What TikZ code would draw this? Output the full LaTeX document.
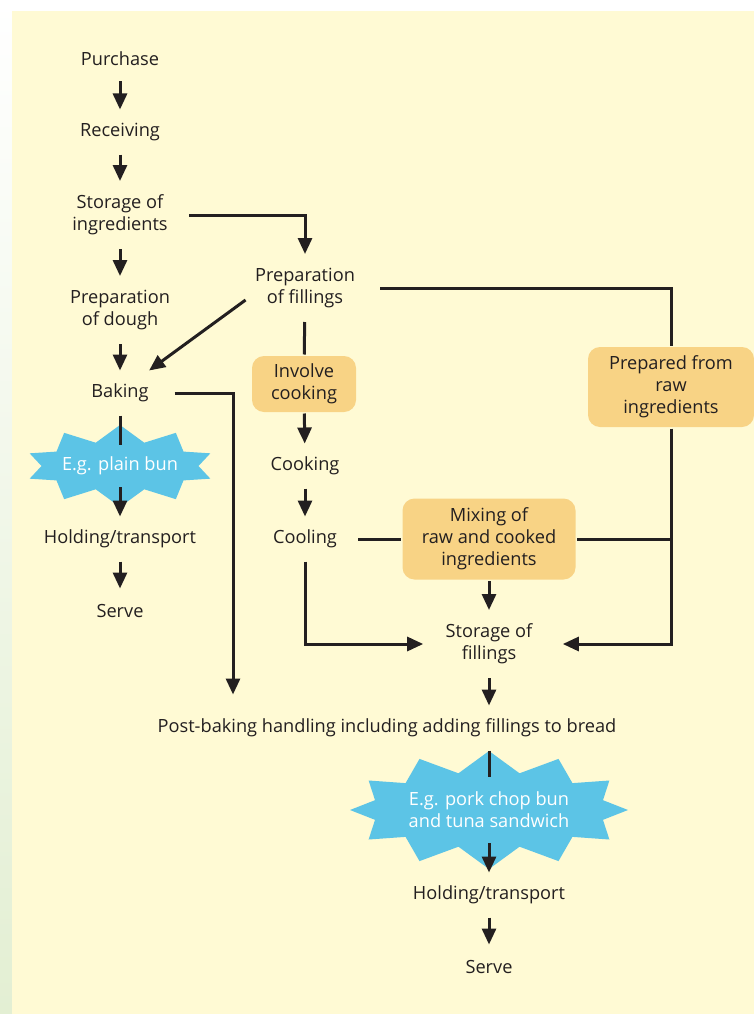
\documentclass[tikz,border=0pt]{standalone}
\usepackage{fontspec}
\setmainfont{Open Sans}
\usepackage{tikz}
\usetikzlibrary{arrows.meta, shapes.symbols}
\definecolor{bg}{RGB}{255,250,212}
\definecolor{side}{RGB}{227,239,211}
\definecolor{ac}{RGB}{248,211,133}
\definecolor{burst}{RGB}{92,196,230}
\definecolor{ink}{RGB}{35,31,32}

\begin{document}
\begin{tikzpicture}[x=1pt, y=-1pt, color=ink, line width=3pt,
                    >={Triangle[length=16pt, width=14pt]},
                    every node/.style = {text=ink, font=\fontsize{18.2}{22}\selectfont, align=center,
                                         inner xsep=20pt, inner ysep=0pt, minimum height=42pt},
                    every edge/.style = {draw, ->},
                    two/.style = {minimum height=65pt},
                    box/.style = {fill=ac, rounded corners=12pt, inner sep=0pt},
                    bang/.style = {starburst, random starburst=0, fill=burst, text=white}]
    \useasboundingbox (0,0) rectangle (754,1014);
    \shade[top color=white, bottom color=side] (0,0) rectangle (12,1014);
    \fill[bg] (12,11) rectangle (754,1014);
    % baking line
    \node (pur)    at (120, 59)       {Purchase};
    \node (rec)    at (120,132)       {Receiving};
    \node (stoing) [two] at (120,215) {Storage of\\ingredients};
    \node (dough)  [two] at (120,310) {Preparation\\of dough};
    \node (bake)   at (120,393)       {Baking};
    \node (bun)    [bang, starburst points=10, shape border rotate=18, starburst point height=16.5pt,
                    minimum width=190pt, minimum height=82pt, inner xsep=-8pt] at (120,466) {E.g. plain bun};
    \node (hold)   at (120,539)       {Holding/transport};
    \node (serve)  at (120,611)       {Serve};
    % fillings
    \node (fill)   [two] at (305,288) {Preparation\\of fillings};
    \node (inv)    [box, minimum width=104pt, minimum height=56pt] at (304,384) {Involve\\cooking};
    \node (cook)   at (305,466)       {Cooking};
    \node (cool)   at (305,539)       {Cooling};
    \node (raw)    [box, minimum width=166pt, minimum height=80pt] at (671,387) {Prepared from\\raw\\ingredients};
    \node (mix)    [box, minimum width=173pt, minimum height=81pt] at (489,539) {Mixing of\\raw and cooked\\ingredients};
    \node (stofil) [two, inner xsep=21pt] at (489,644) {Storage of\\fillings};
    \node (post)   at (387,728)       {Post-baking handling including adding fillings to bread};
    \node (pork)   [bang, starburst points=12, shape border rotate=15, starburst point height=21pt,
                    minimum width=278pt, minimum height=118pt, inner xsep=-5pt] at (489,810) {E.g. pork chop bun\\and tuna sandwich};
    \node (hold2)  at (489,895)       {Holding/transport};
    \node (serve2) at (489,967)       {Serve};

    \draw (pur) edge (rec) (rec) edge (stoing) (stoing) edge (dough) (dough) edge (bake);
    \draw (bake) -- ([yshift=21pt]bun.center);
    \draw ([yshift=-21pt]bun.center) edge (hold) (hold) edge (serve);
    \draw[->] (stoing) -| (fill);
    \draw[->] ([xshift=12pt, yshift=-12pt]fill.west) -- ([xshift=-21pt]bake.north east);
    \draw (fill) -- (inv);
    \draw (inv) edge (cook) (cook) edge (cool);
    \draw[shorten <=4pt] (fill) -| (raw);
    \draw[->, shorten >=8pt] (raw) |- (stofil);
    \draw (mix) -- (mix -| raw);
    \draw (cool) -- (mix);
    \draw (mix) edge (stofil);
    \draw[->] (cool) |- (stofil);
    \draw[->, shorten <=4.5pt, shorten >=11pt] (bake) -| ([xshift=-154pt]post.north);
    \draw[->] (stofil) -- (stofil |- post.north);
    \draw (post.south -| pork) -- ([yshift=33pt]pork.center);
    \draw ([yshift=-33pt]pork.center) edge (hold2) (hold2) edge (serve2);
\end{tikzpicture}
\end{document}
